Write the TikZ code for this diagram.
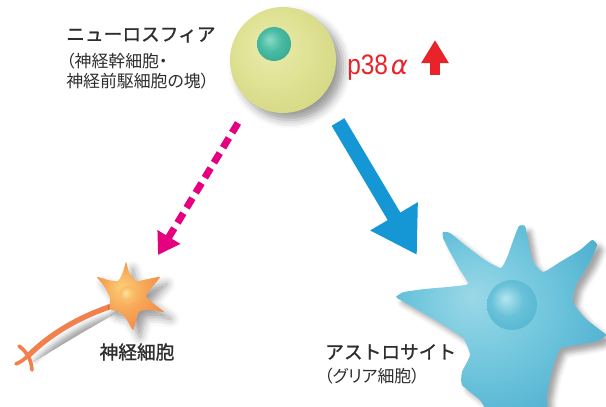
\documentclass[tikz,border=0pt]{standalone}
\usepackage{fontspec}
\newfontfamily\jp[FakeBold=1.2]{Noto Sans CJK JP}
\newfontfamily\jpsub[RawFeature=+palt]{Noto Sans CJK JP}
\newfontfamily\latin[FakeStretch=0.87]{Liberation Sans}
\newfontfamily\greek{DejaVu Sans}
\usetikzlibrary{arrows.meta,shadows.blur}

\colorlet{cin}{white}
\colorlet{cmid}{gray}
\colorlet{cout}{black}
\pgfdeclareradialshading[cin,cmid,cout]{cellbody}{\pgfpoint{-7bp}{7bp}}{color(0bp)=(cin); color(16bp)=(cmid); color(40bp)=(cout); color(50bp)=(cout)}

\definecolor{txtgray}{HTML}{2E2E2E}
\definecolor{pinkc}{HTML}{E5007F}
\definecolor{bluec}{HTML}{1597D5}
\definecolor{redc}{HTML}{E8242A}
\definecolor{axonc}{HTML}{F2804C}

\tikzset{
  cellcolors/.code n args={3}{\definecolor{cin}{HTML}{#1}\definecolor{cmid}{HTML}{#2}\definecolor{cout}{HTML}{#3}},
  cellshadow/.style={blur shadow={shadow xshift=5pt, shadow yshift=-5pt, shadow blur radius=6pt, shadow opacity=40}},
  armshadow/.style={blur shadow={shadow xshift=4pt, shadow yshift=-4pt, shadow blur radius=3.5pt, shadow opacity=35}},
  bigname/.style={text=txtgray, inner sep=0pt, font=\jp\fontsize{13.3}{16}\selectfont},
  subname/.style={text=txtgray, inner sep=0pt, align=left, font=\jpsub\fontsize{12}{14.2}\selectfont},
}

\begin{document}
\begin{tikzpicture}[x=0.025cm, y=-0.025cm]
                \useasboundingbox (0,0) rectangle (606,407);
                \clip (0,0) rectangle (606,407);
                \coordinate (sphere) at (283,60);
                \coordinate (neuron) at (128,297);
                \coordinate (astro) at (512,305);
                \shade[cellshadow, shading=cellbody, cellcolors={EAEBB0}{E0E295}{CED278}] (sphere) circle (53);
                \shade[shading=cellbody, cellcolors={8ADAC6}{48BBA2}{2F9F89}] (274,44) circle (17);
                \node[bigname, anchor=west] (nslabel) at (66,35) {ニューロスフィア};
                \node[subname, anchor=north west] (nssub) at (66,53) {（神経幹細胞・\\神経前駆細胞の塊）};
                \node[anchor=base west, inner sep=0pt, text=redc, font=\latin\fontsize{20}{22}\selectfont] (p38) at (347,75) {p38\kern2pt{\greek\itshape\fontsize{18.5}{20}\selectfont α}};
                \coordinate (upfrom) at (435,75);
                \coordinate (upto) at (435,40);
                \draw[redc, line width=7.2pt, -{Triangle[length=16.4pt,width=18.5pt]}] (upfrom) -- (upto);
                \coordinate (pinkfrom) at (238,123);
                \coordinate (pinkto) at (158,255);
                \draw[pinkc, line width=5pt, dash pattern=on 8pt off 4.5pt, -{Triangle[length=15pt,width=18pt]}] (pinkfrom) -- (pinkto);
                \coordinate (bluefrom) at (338,122);
                \coordinate (blueto) at (417,255);
                \draw[bluec, line width=10.5pt, -{Triangle[length=32pt,width=37pt]}] (bluefrom) -- (blueto);
                \draw[axonc, line width=3.8pt, line cap=round, armshadow] (112,306) .. controls (82,316) and (52,332) .. (28,356);
                \draw[axonc, line width=2.6pt, line cap=round] (28,356) .. controls (24,350) .. (19,346);
                \draw[axonc, line width=2.6pt, line cap=round] (28,356) .. controls (22,361) .. (16,364);
                \draw[axonc, line width=2.6pt, line cap=round] (28,356) .. controls (31,362) .. (32,370);
                \shade[cellshadow, shading=cellbody, cellcolors={FBCF78}{F7A555}{EF7743}] plot [smooth cycle, tension=0.35] coordinates {(126,262) (129,272) (136,281) (148,279) (160,277) (153,286) (146,296) (154,304) (164,312) (152,310) (140,311) (136,320) (133,330) (127,320) (120,312) (110,309) (110,298) (104,286) (97,277) (108,280) (118,281) (123,272)};
                \shade[shading=cellbody, cellcolors={FDE2A6}{FAC068}{F7A858}] (128,295) circle (9);
                \node[bigname] (nlabel) at (137,352) {神経細胞};
                \shade[armshadow, shading=cellbody, cellcolors={9AD8E7}{70C6DD}{3AA2C8}] plot [smooth cycle, tension=0.3] coordinates {(396,297) (404,292) (425,289) (447,287) (468,284) (460,270) (450,252) (443,238) (443,232) (450,233) (465,245) (485,260) (501,268) (508,255) (514,238) (519,226) (525,226) (528,240) (532,260) (543,272) (560,262) (580,250) (592,240) (597,245) (590,262) (576,285) (573,302) (585,318) (600,330) (606,335) (598,341) (578,345) (560,349) (552,370) (547,395) (545,420) (495,420) (480,400) (462,385) (462,372) (470,355) (463,338) (440,323) (420,311) (404,302)};
                \shade[shading=cellbody, cellcolors={B4E5EF}{68C2D9}{4AAFCD}] (astro) circle (25);
                \node[bigname, anchor=west] (alabel) at (325,352) {アストロサイト};
                \node[subname, anchor=west] (asub) at (324,376) {（グリア細胞）};
\end{tikzpicture}
\end{document}
